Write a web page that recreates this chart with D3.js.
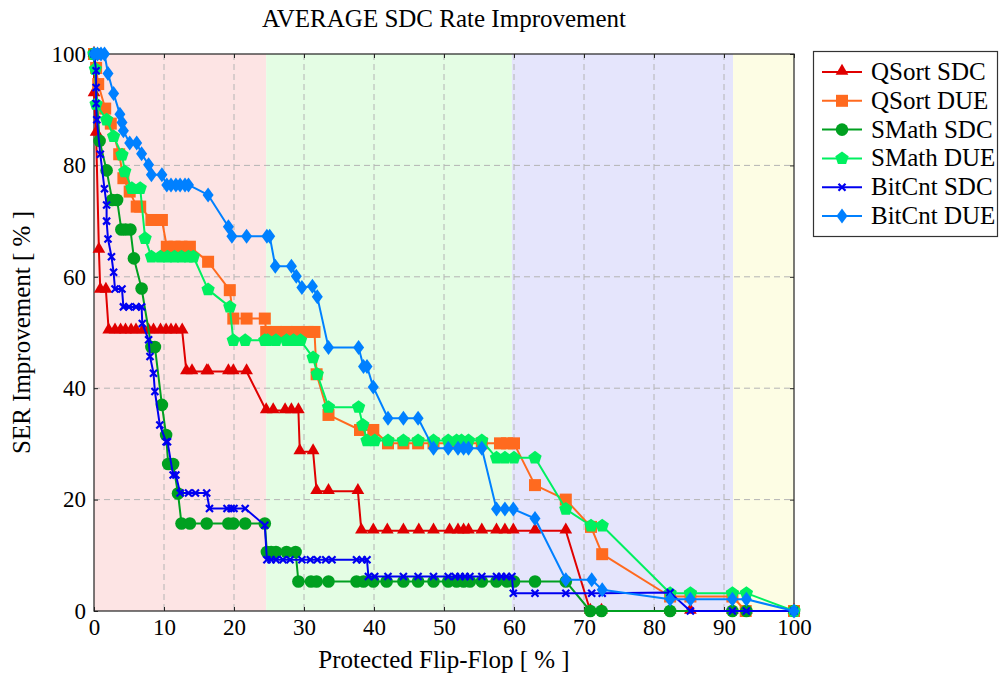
<!DOCTYPE html>
<html><head><meta charset="utf-8">
<script src="https://cdn.jsdelivr.net/npm/d3@7"></script>
<style>body{margin:0;background:#fff}svg{display:block}</style>
</head><body><svg id="c" width="1000" height="674"></svg>
<script>
const title = "AVERAGE SDC Rate Improvement";
const xLabel = "Protected Flip-Flop [ % ]";
const yLabel = "SER Improvement [ % ]";
const xTicks = [0,10,20,30,40,50,60,70,80,90,100];
const yTicks = [0,20,40,60,80,100];
const regions = [[0,24.6,"#fde4e4"],[24.6,59.7,"#e4fde4"],[59.7,91.3,"#e5e5fc"],[91.3,100,"#fdfde4"]];
const seriesNames = ["QSort SDC","QSort DUE","SMath SDC","SMath DUE","BitCnt SDC","BitCnt DUE"];
const seriesColors = ["#e00000","#ff6a1f","#00a020","#00f060","#0000f0","#0080ff"];
const seriesMarkers = ["triangle","square","circle","pentagon","cross","diamond"];

const qsortSdc = [[0,100],[0,92.9],[0.3,85.8],[0.7,64.8],[0.9,57.6],[1.7,57.6],[2.1,50.3],[3,50.3],[3.8,50.3],[4.5,50.3],[5.3,50.3],[6,50.3],[7,50.3],[7.8,50.3],[8.5,50.3],[9.5,50.3],[10.3,50.3],[11,50.3],[11.7,50.3],[12.6,50.3],[13.2,43],[14,43],[16.1,43],[16.3,43],[19.2,43],[19.9,43],[21.8,43],[24.6,36],[25.6,36],[27.3,36],[28.2,36],[29.2,36],[29.4,28.6],[31.3,28.6],[31.8,21.5],[33.5,21.5],[37.7,21.5],[38.2,14.4],[39.9,14.4],[41.9,14.4],[44.2,14.4],[46.4,14.4],[48.5,14.4],[50.8,14.4],[52,14.4],[52.8,14.4],[53.5,14.4],[55.4,14.4],[57.5,14.4],[58.7,14.4],[59.9,14.4],[63,14.4],[67.4,14.4],[70.9,0],[72.5,0],[82.3,0],[85.2,0],[91.2,0],[93.2,0],[100,0]];
const qsortDue = [[0,100],[0.3,97.5],[0.6,94.6],[1.6,90.2],[2.4,87.5],[3.6,82],[4.2,77.7],[5.1,75.3],[6.1,72.6],[6.6,72.6],[8.2,70.2],[9.7,70.2],[10.4,65.4],[11.5,65.4],[12.5,65.4],[13.7,65.4],[16.3,62.7],[19.4,57.6],[19.9,52.5],[21.8,52.5],[24.4,52.5],[24.6,50.1],[26,50.1],[27.5,50.1],[29,50.1],[30.5,50.1],[31.5,50.1],[31.8,42.5],[33.5,35.2],[38,32.5],[39.9,32.5],[42,30.1],[44.2,30.1],[46.3,30.1],[48.5,30.1],[50.9,30.1],[52.3,30.1],[53.2,30.1],[55.4,30.1],[58,30.1],[59,30.1],[60,30.1],[63,22.6],[67.4,20],[71,15.1],[72.6,10.2],[82.3,2.6],[85.2,2.6],[91.2,2.6],[93.1,0],[100,0]];
const smathSdc = [[0,100],[0.8,84.4],[1.8,79.1],[2.6,73.8],[3.3,73.8],[3.9,68.5],[4.5,68.5],[5.2,68.5],[5.7,63.3],[6.8,57.9],[8.2,47.4],[8.7,47.4],[9.7,37],[10.3,31.6],[10.6,26.4],[11.3,26.4],[12,21.1],[12.5,15.7],[13.7,15.7],[16.1,15.7],[19.2,15.7],[19.9,15.7],[21.6,15.7],[24.4,15.7],[24.7,10.6],[25.3,10.6],[26,10.6],[27.5,10.6],[28.8,10.6],[29.2,5.3],[31,5.3],[31.8,5.3],[33.5,5.3],[37.5,5.3],[38.5,5.3],[39.9,5.3],[41.8,5.3],[44.2,5.3],[46.3,5.3],[48.5,5.3],[50.6,5.3],[51.8,5.3],[52.8,5.3],[53.7,5.3],[55.4,5.3],[57.5,5.3],[59,5.3],[60,5.3],[63,5.3],[67.4,5.3],[70.9,0],[72.5,0],[82.3,0],[91.2,0],[93.2,0],[100,0]];
const smathDue = [[0,100],[0.2,97.3],[0.3,91],[1.8,88.2],[2.8,85.2],[4,81.9],[4.4,78.9],[5.4,75.9],[6.6,75.9],[7.3,66.9],[8.2,63.6],[9.5,63.6],[10.5,63.6],[11.5,63.6],[12.5,63.6],[13.5,63.6],[14.2,63.6],[16.3,57.7],[19.4,54.6],[19.9,48.6],[21.6,48.6],[24.4,48.6],[24.8,48.6],[26,48.6],[27.5,48.6],[28.5,48.6],[29.5,48.6],[31.3,45.5],[31.9,42.5],[33.5,36.6],[37.8,36.6],[38.4,33.4],[39,30.6],[40.1,30.6],[42,30.6],[44.2,30.6],[46.3,30.6],[48.5,30.6],[50.6,30.6],[51.8,30.6],[52.5,30.6],[53.5,30.6],[55.4,30.6],[57.5,27.5],[58.7,27.5],[60,27.5],[63,27.5],[67.4,18.3],[71,15.3],[72.6,15.3],[82.3,3.2],[85.2,3.2],[91.2,3.2],[93.2,3.2],[100,0]];
const bitcntSdc = [[0,100],[0.3,97],[0.3,94],[0.3,91.1],[0.4,88.2],[0.9,82],[1.5,75.8],[1.8,72.9],[1.8,70],[2,66.8],[2.5,63.6],[2.8,60.8],[3,57.8],[4,57.8],[4.2,54.6],[5,54.6],[6,54.6],[6.8,54.6],[6.9,51.6],[7.8,48.7],[8,45.7],[8.5,42.7],[8.7,39.4],[9.4,33.4],[10.3,30.4],[10.5,30.4],[11.3,24.4],[11.7,24.4],[12.3,21.2],[13.5,21.2],[14.5,21.2],[16.1,21.2],[16.5,18.4],[19,18.4],[19.6,18.4],[20,18.4],[21.6,18.4],[24.4,15.4],[24.7,9.2],[25.3,9.2],[26,9.2],[27,9.2],[28,9.2],[29.7,9.2],[30.9,9.2],[31.9,9.2],[33.1,9.2],[34,9.2],[37.5,9.2],[38.3,9.2],[39,9.2],[39.2,6.2],[40.1,6.2],[42,6.2],[44.2,6.2],[46.3,6.2],[48.5,6.2],[50.6,6.2],[51.6,6.2],[52.3,6.2],[53,6.2],[53.7,6.2],[55.4,6.2],[57.5,6.2],[58.2,6.2],[58.9,6.2],[59.7,6.2],[59.9,3.2],[63,3.2],[67.4,3.2],[71.1,3.2],[72.6,3.2],[82.3,3.3],[85.2,0],[91.2,0],[93.2,0],[100,0]];
const bitcntDue = [[0,100],[0.5,100],[1,100],[1.5,100],[2,96.5],[2.8,92.9],[3.7,89.2],[4,87.7],[4.2,86.2],[5.1,84],[6.1,84],[6.8,82.1],[7.8,80.1],[8.2,78.3],[9.7,78.3],[10.4,76.5],[11,76.5],[11.7,76.5],[12.3,76.5],[13,76.5],[13.5,76.5],[16.3,74.7],[19.2,69],[19.7,67.3],[21.8,67.3],[24.7,67.3],[25.1,67.3],[25.9,61.9],[28.2,61.9],[28.9,60.1],[29.7,58.1],[31.2,58.3],[31.9,56.4],[33.5,47.3],[37.8,47.3],[38.5,43.9],[39,43.9],[39.9,40.2],[42,34.6],[44.2,34.6],[46.3,34.6],[48.5,29.2],[50.6,29.2],[52,29.2],[52.8,29.2],[53.5,29.2],[55.4,29.2],[57.5,18.3],[58.7,18.3],[59.9,18.3],[63,16.6],[67.4,5.6],[71.1,5.6],[72.6,3.8],[82.3,2.1],[85.2,2.1],[91.2,2.1],[93.2,2.1],[100,0]];
const seriesData = [qsortSdc,qsortDue,smathSdc,smathDue,bitcntSdc,bitcntDue];

const svg = d3.select("#c");
const L=94,R=794,T=54,B=611;
const x = d3.scaleLinear().domain([0,100]).range([L,R]);
const y = d3.scaleLinear().domain([0,100]).range([B,T]);
const serif = "'Liberation Serif','DejaVu Serif',serif";

// backgrounds
svg.append("g").selectAll("rect").data(regions).join("rect")
  .attr("x",d=>x(d[0])).attr("y",T).attr("width",d=>x(d[1])-x(d[0])).attr("height",B-T).attr("fill",d=>d[2]);

// grid
const grid = svg.append("g").attr("stroke","#b4b4b4").attr("stroke-width",1).attr("stroke-dasharray","6,4");
grid.selectAll(".gx").data(xTicks.slice(1,-1)).join("line").attr("x1",d=>x(d)).attr("x2",d=>x(d)).attr("y1",T).attr("y2",B);
grid.selectAll(".gy").data(yTicks.slice(1,-1)).join("line").attr("y1",d=>y(d)).attr("y2",d=>y(d)).attr("x1",L).attr("x2",R);

// axes
const ax = svg.append("g").attr("transform",`translate(0,${B})`).call(d3.axisBottom(x).tickValues(xTicks).tickSize(-4).tickPadding(8));
const axT = svg.append("g").attr("transform",`translate(0,${T})`).call(d3.axisTop(x).tickValues(xTicks).tickSize(-4).tickFormat(""));
const ay = svg.append("g").attr("transform",`translate(${L},0)`).call(d3.axisLeft(y).tickValues(yTicks).tickSize(-4).tickPadding(8));
const ayR = svg.append("g").attr("transform",`translate(${R},0)`).call(d3.axisRight(y).tickValues(yTicks).tickSize(-4).tickFormat(""));
[ax,axT,ay,ayR].forEach(g=>{g.select(".domain").remove();g.selectAll("line").attr("stroke","#222");});
[ax,ay].forEach(g=>g.selectAll("text").attr("font-family",serif).attr("font-size",23).attr("fill","#000"));
svg.append("rect").attr("x",L).attr("y",T).attr("width",R-L).attr("height",B-T).attr("fill","none").attr("stroke","#222").attr("stroke-width",1.2);

// markers
function marker(g,type,color){
  if(type==="triangle") g.append("path").attr("d",d3.symbol(d3.symbolTriangle,70)()).attr("transform","translate(0,-1)").attr("fill",color);
  else if(type==="square") g.append("rect").attr("x",-6).attr("y",-6).attr("width",12).attr("height",12).attr("fill",color);
  else if(type==="circle") g.append("circle").attr("r",6.3).attr("fill",color);
  else if(type==="pentagon"){const r=7;const pts=d3.range(5).map(i=>{const a=-Math.PI/2+i*2*Math.PI/5;return [r*Math.cos(a),r*Math.sin(a)];});g.append("polygon").attr("points",pts.map(p=>p.join(",")).join(" ")).attr("fill",color);}
  else if(type==="cross") g.append("path").attr("d","M-3.5,-3.5L3.5,3.5M-3.5,3.5L3.5,-3.5").attr("stroke",color).attr("stroke-width",2.2).attr("fill","none");
  else if(type==="diamond") g.append("path").attr("d","M0,-7.5L5.5,0L0,7.5L-5.5,0Z").attr("fill",color);
}

const line = d3.line().x(d=>x(d[0])).y(d=>y(d[1]));
const plot = svg.append("g");
seriesData.forEach((data,i)=>{
  const g = plot.append("g");
  g.append("path").datum(data).attr("d",line).attr("fill","none").attr("stroke",seriesColors[i]).attr("stroke-width",2).attr("stroke-linejoin","round");
  g.selectAll("g.m").data(data).join("g").attr("class","m").attr("transform",d=>`translate(${x(d[0])},${y(d[1])})`).each(function(){marker(d3.select(this),seriesMarkers[i],seriesColors[i]);});
});

// title and labels
svg.append("text").attr("x",(L+R)/2).attr("y",27).attr("text-anchor","middle").attr("font-family",serif).attr("font-size",25).text(title);
svg.append("text").attr("x",(L+R)/2).attr("y",668).attr("text-anchor","middle").attr("font-family",serif).attr("font-size",25).text(xLabel);
svg.append("text").attr("transform",`translate(30,${(T+B)/2}) rotate(-90)`).attr("text-anchor","middle").attr("font-family",serif).attr("font-size",25).text(yLabel);

// legend
const lg = svg.append("g");
lg.append("rect").attr("x",813.5).attr("y",51.5).attr("width",184).attr("height",185).attr("fill","#fff").attr("stroke","#333").attr("stroke-width",1.2);
seriesNames.forEach((n,i)=>{
  const cy = 72 + i*28.8;
  lg.append("line").attr("x1",822).attr("x2",862).attr("y1",cy).attr("y2",cy).attr("stroke",seriesColors[i]).attr("stroke-width",2);
  const m = lg.append("g").attr("transform",`translate(842,${cy})`); marker(m,seriesMarkers[i],seriesColors[i]);
  lg.append("text").attr("x",871).attr("y",cy+8).attr("font-family",serif).attr("font-size",25).text(n);
});
</script></body></html>
